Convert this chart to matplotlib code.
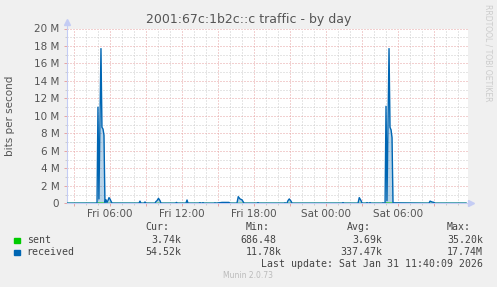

# Munin interface traffic graph (by day)

import matplotlib
matplotlib.use('Agg')
import matplotlib.pyplot as plt
import numpy as np

# Time axis in hours since Fri 00:00, values in Mbit/s
T_START = 2.42
T_END = 35.83
TICK_HOURS = [6, 12, 18, 24, 30]
TICK_LABELS = ['Fri 06:00', 'Fri 12:00', 'Fri 18:00', 'Sat 00:00', 'Sat 06:00']
Y_TICKS = [0, 2, 4, 6, 8, 10, 12, 14, 16, 18, 20]
Y_LABELS = ['0'] + [f'{v} M' for v in Y_TICKS[1:]]

recv_hours = [
    2.42, 4.92, 5.00, 5.08, 5.25, 5.33, 5.42, 5.50, 5.58,     # morning burst
    5.67, 5.75, 5.83, 5.92, 6.00, 6.08, 6.17,
    8.42, 8.50, 8.58, 8.83, 8.92, 9.00,
    9.75, 9.83, 9.92, 10.04, 10.17, 10.25,
    11.46, 11.54, 11.62, 12.33, 12.42, 12.50,
    13.42, 13.50, 13.58, 13.67, 13.75, 13.83,
    14.67, 14.75, 14.83, 15.33, 15.42, 15.92, 16.00,
    16.58, 16.69, 16.83, 17.00, 17.17,
    18.25, 18.33, 18.42, 20.50, 20.58, 20.67,
    20.75, 20.83, 20.94, 21.08, 21.17,
    25.33, 25.42, 25.50, 26.67, 26.77, 26.92, 27.00,
    27.33, 27.42, 27.50, 27.58, 27.67, 27.75,
    28.67, 28.75, 28.83, 28.92, 29.00, 29.08, 29.25,   # second burst
    29.33, 29.42, 29.50, 29.58,
    32.58, 32.67, 32.83, 33.00, 33.08, 35.67,
]
recv_mbit = [
    0.012, 0.02, 11.0, 0.5, 17.7, 8.7, 8.5, 7.8, 0.1,
    0.4, 0.1, 0.3, 0.65, 0.5, 0.25, 0.02,
    0.012, 0.25, 0.012, 0.012, 0.15, 0.012,
    0.012, 0.2, 0.3, 0.57, 0.3, 0.012,
    0.012, 0.1, 0.012, 0.012, 0.38, 0.012,
    0.012, 0.08, 0.012, 0.012, 0.08, 0.012,
    0.012, 0.06, 0.012, 0.1, 0.1, 0.1, 0.012,
    0.012, 0.76, 0.5, 0.4, 0.012,
    0.012, 0.08, 0.012, 0.012, 0.06, 0.012,
    0.012, 0.3, 0.5, 0.25, 0.012,
    0.012, 0.08, 0.012, 0.012, 0.65, 0.3, 0.012,
    0.012, 0.08, 0.012, 0.012, 0.08, 0.012,
    0.012, 0.06, 0.012, 0.02, 11.1, 0.3, 17.7,
    8.7, 8.4, 7.5, 0.05,
    0.012, 0.25, 0.15, 0.1, 0.012, 0.012,
]

sent_hours = [2.42, 4.92, 5.00, 5.50, 5.58, 28.92, 29.00, 29.50, 29.58, 35.67]
sent_mbit = [0.004, 0.004, 0.035, 0.03, 0.004, 0.004, 0.035, 0.03, 0.004, 0.004]

# legend table
legend_rows = ['sent', 'received']
cur_vals = ['3.74k', '54.52k']
min_vals = ['686.48', '11.78k']
avg_vals = ['3.69k', '337.47k']
max_vals = ['35.20k', '17.74M']

SENT_COLOR = '#00cc00'
RECV_COLOR = '#0066b3'
W, H = 497, 287


def px(x, y):
    return x / W, 1 - y / H


fig = plt.figure(figsize=(W / 100, H / 100), dpi=100, facecolor='#f0f0f0')
ax = fig.add_axes([67 / W, 1 - 203.3 / H, (468 - 67) / W, (203.3 - 28.5) / H])
ax.set_facecolor('white')

ax.set_xlim(T_START, T_END)
ax.set_ylim(0, 20)

# grid: grey every hour / 1M, red every 3h / 2M
ax.set_xticks(np.arange(3, 36, 3))
ax.set_xticklabels([TICK_LABELS[TICK_HOURS.index(h)] if h in TICK_HOURS else ''
                    for h in np.arange(3, 36, 3)])
ax.set_xticks(np.arange(3, 36, 1), minor=True)
ax.set_yticks(Y_TICKS)
ax.set_yticklabels(Y_LABELS)
ax.set_yticks(np.arange(0, 21, 1), minor=True)
ax.grid(True, which='minor', color='#cccccc', linestyle=(0, (1, 2)), linewidth=0.72)
ax.grid(True, which='major', color='#e6a3a3', linestyle=(0, (1, 2)), linewidth=0.72)
ax.set_axisbelow(True)

ax.tick_params(axis='both', which='major', length=2, width=0.7, color='#e6a3a3',
               labelsize=7.5, labelcolor='#555555')
ax.tick_params(axis='x', which='major', pad=2)
ax.tick_params(axis='y', which='major', pad=3.5)
ax.tick_params(axis='both', which='minor', length=1.5, width=0.7, color='#cccccc')

for side in ['top', 'right']:
    ax.spines[side].set_visible(False)
for side in ['left', 'bottom']:
    ax.spines[side].set_color('#c4ccf4')
    ax.spines[side].set_linewidth(0.8)

# axis arrows
ax.plot([0, 0], [1, 1.035], color='#c4ccf4', lw=0.8, transform=ax.transAxes, clip_on=False)
ax.plot([1, 1.008], [0, 0], color='#c4ccf4', lw=0.8, transform=ax.transAxes, clip_on=False)
ax.plot(0, 1.035, marker='^', ms=5, color='#c4ccf4', transform=ax.transAxes, clip_on=False)
ax.plot(1.008, 0, marker='>', ms=5, color='#c4ccf4', transform=ax.transAxes, clip_on=False)

# series
ax.fill_between(recv_hours, recv_mbit, color=RECV_COLOR, alpha=0.28, lw=0, zorder=2)
ax.plot(sent_hours, sent_mbit, color=SENT_COLOR, lw=0.8, zorder=3)
ax.plot(recv_hours, recv_mbit, color=RECV_COLOR, lw=1.0, zorder=4)

# titles
fig.text(*px(249, 20), '2001:67c:1b2c::c traffic - by day', ha='center', va='center',
         fontsize=9.0, color='#555555')
fig.text(*px(10, 116), 'bits per second', ha='center', va='center', rotation=90,
         fontsize=7.5, color='#555555')
fig.text(*px(488, 53), 'RRDTOOL / TOBI OETIKER', ha='center', va='center', rotation=270,
         fontsize=5.5, color='#cccccc')

# legend table
mono = dict(family='DejaVu Sans Mono', fontsize=7.1, color='#444444', va='center')
fig.text(*px(145, 227.3), 'Cur:', **mono)
fig.text(*px(246, 227.3), 'Min:', **mono)
fig.text(*px(346.7, 227.3), 'Avg:', **mono)
fig.text(*px(446.7, 227.3), 'Max:', **mono)

row_y = [240, 252]
colors = [SENT_COLOR, RECV_COLOR]
for i, name in enumerate(legend_rows):
    y = row_y[i]
    fig.patches.append(plt.Rectangle(px(14, y + 3), 5.5 / W, 5.5 / H, color=colors[i],
                                     transform=fig.transFigure, figure=fig))
    fig.text(*px(26.7, y), name, **mono)
    fig.text(*px(181.5, y), cur_vals[i], ha='right', **mono)
    fig.text(*px(276 if min_vals[i][-1].isdigit() else 282, y), min_vals[i], ha='right', **mono)
    fig.text(*px(382, y), avg_vals[i], ha='right', **mono)
    fig.text(*px(483, y), max_vals[i], ha='right', **mono)

fig.text(*px(483, 263.7), 'Last update: Sat Jan 31 11:40:09 2026', ha='right', **mono)
fig.text(*px(248, 276), 'Munin 2.0.73', ha='center', va='center', fontsize=5.5, color='#bbbbbb')

fig.savefig('out.png', dpi=100, facecolor=fig.get_facecolor())
